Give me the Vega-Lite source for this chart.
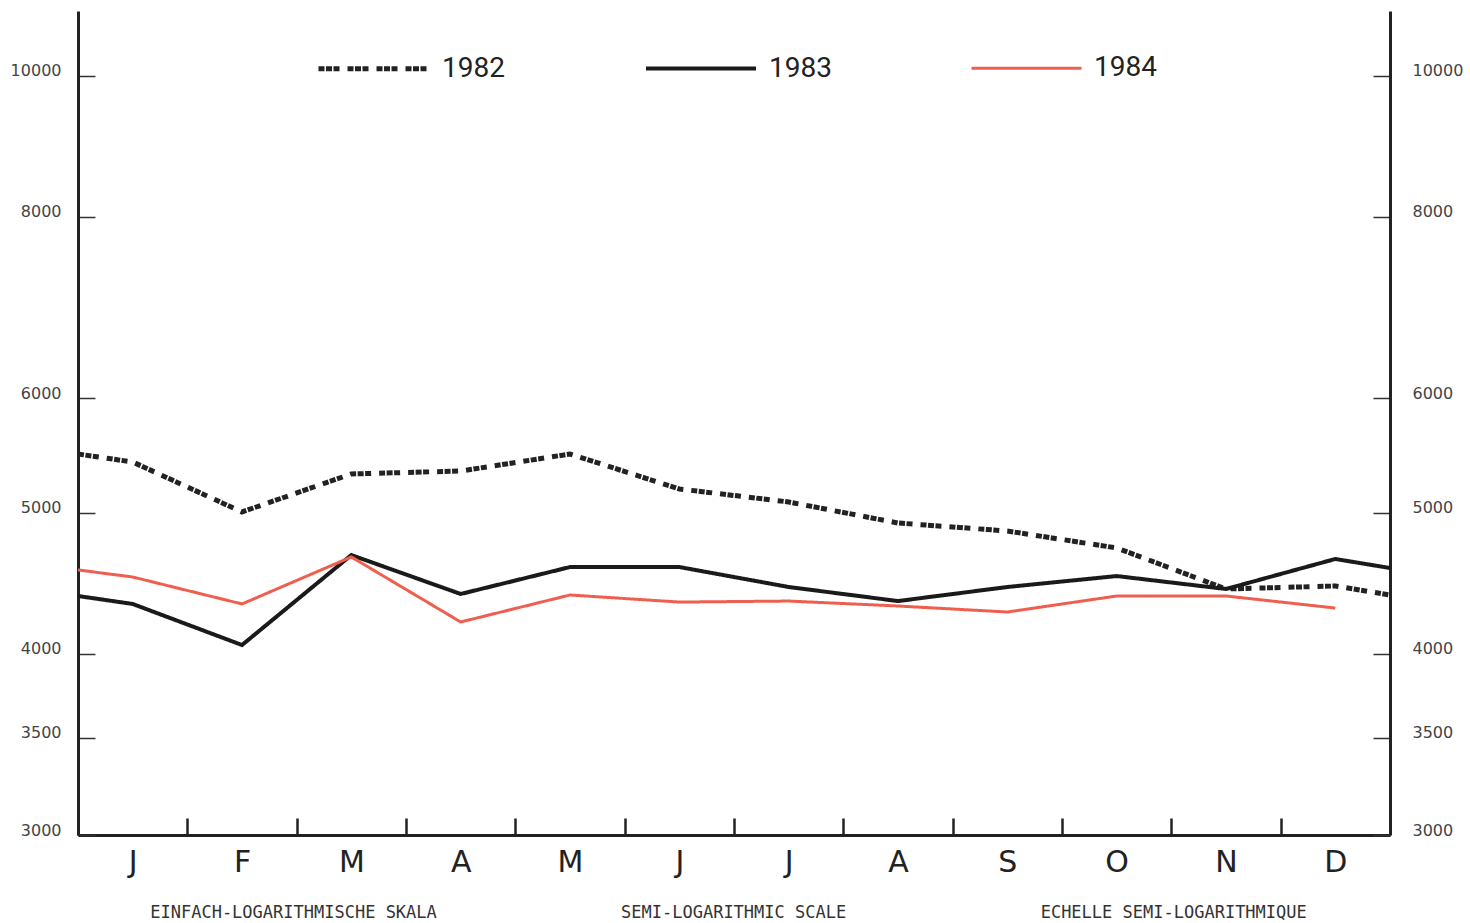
{
  "$schema": "https://vega.github.io/schema/vega-lite/v6.json",
  "width": 1312,
  "height": 824,
  "autosize": {"type": "none"},
  "padding": {"left": 78, "top": 11, "right": 80, "bottom": 88},
  "background": "white",
  "config": {"view": {"stroke": null}, "axis": {"grid": false}},
  "data": {"values": [
    {"year": "1982", "m": 0, "v": 5490},
    {"year": "1982", "m": 0.5, "v": 5421},
    {"year": "1982", "m": 1.5, "v": 5008},
    {"year": "1982", "m": 2.5, "v": 5319},
    {"year": "1982", "m": 3.5, "v": 5344},
    {"year": "1982", "m": 4.5, "v": 5490},
    {"year": "1982", "m": 5.5, "v": 5194},
    {"year": "1982", "m": 6.5, "v": 5088},
    {"year": "1982", "m": 7.5, "v": 4921},
    {"year": "1982", "m": 8.5, "v": 4859},
    {"year": "1982", "m": 9.5, "v": 4730},
    {"year": "1982", "m": 10.5, "v": 4432},
    {"year": "1982", "m": 11.5, "v": 4453},
    {"year": "1982", "m": 12, "v": 4390},
    {"year": "1983", "m": 0, "v": 4383},
    {"year": "1983", "m": 0.5, "v": 4328},
    {"year": "1983", "m": 1.5, "v": 4055},
    {"year": "1983", "m": 2.5, "v": 4677},
    {"year": "1983", "m": 3.5, "v": 4397},
    {"year": "1983", "m": 4.5, "v": 4589},
    {"year": "1983", "m": 5.5, "v": 4589},
    {"year": "1983", "m": 6.5, "v": 4446},
    {"year": "1983", "m": 7.5, "v": 4348},
    {"year": "1983", "m": 8.5, "v": 4446},
    {"year": "1983", "m": 9.5, "v": 4524},
    {"year": "1983", "m": 10.5, "v": 4432},
    {"year": "1983", "m": 11.5, "v": 4648},
    {"year": "1983", "m": 12, "v": 4582},
    {"year": "1984", "m": 0, "v": 4568},
    {"year": "1984", "m": 0.5, "v": 4517},
    {"year": "1984", "m": 1.5, "v": 4328},
    {"year": "1984", "m": 2.5, "v": 4663},
    {"year": "1984", "m": 3.5, "v": 4206},
    {"year": "1984", "m": 4.5, "v": 4390},
    {"year": "1984", "m": 5.5, "v": 4341},
    {"year": "1984", "m": 6.5, "v": 4348},
    {"year": "1984", "m": 7.5, "v": 4314},
    {"year": "1984", "m": 8.5, "v": 4273},
    {"year": "1984", "m": 9.5, "v": 4383},
    {"year": "1984", "m": 10.5, "v": 4383},
    {"year": "1984", "m": 11.5, "v": 4300}
  ]},
  "layer": [
    {
      "mark": {"type": "line", "strokeCap": "butt", "strokeJoin": "miter"},
      "encoding": {
        "x": {
          "field": "m", "type": "quantitative",
          "scale": {"domain": [0, 12], "nice": false, "zero": false},
          "axis": {
            "orient": "bottom",
            "values": [0, 1, 2, 3, 4, 5, 6, 7, 8, 9, 10, 11],
            "labelExpr": "['J','F','M','A','M','J','J','A','S','O','N','D'][datum.value]",
            "labelOffset": 54.67,
            "labelFlush": false,
            "labelOverlap": false,
            "labelFont": "DejaVu Sans",
            "labelFontSize": 30,
            "labelColor": "#222222",
            "labelPadding": 29,
            "tickSize": -17,
            "tickWidth": 2.5,
            "tickColor": "#222222",
            "domainColor": "#222222",
            "domainWidth": 3,
            "title": "EINFACH-LOGARITHMISCHE SKALA\u00a0\u00a0\u00a0\u00a0\u00a0\u00a0\u00a0\u00a0\u00a0\u00a0\u00a0\u00a0\u00a0\u00a0\u00a0\u00a0\u00a0\u00a0SEMI-LOGARITHMIC SCALE\u00a0\u00a0\u00a0\u00a0\u00a0\u00a0\u00a0\u00a0\u00a0\u00a0\u00a0\u00a0\u00a0\u00a0\u00a0\u00a0\u00a0\u00a0\u00a0ECHELLE SEMI-LOGARITHMIQUE",
            "titleFont": "DejaVu Sans Mono",
            "titleFontSize": 17,
            "titleFontWeight": "normal",
            "titleColor": "#333333",
            "titleX": 650,
            "titleY": 77,
            "titleAlign": "center",
            "titleAnchor": null,
            "titleBaseline": "middle"
          }
        },
        "y": {
          "field": "v", "type": "quantitative",
          "scale": {"type": "log", "domain": [3000, 11086], "nice": false},
          "axis": {
            "orient": "left",
            "values": [3000, 3500, 4000, 5000, 6000, 8000, 10000],
            "format": "d",
            "labelFont": "DejaVu Sans",
            "labelFontSize": 16,
            "labelColor": "#444444",
            "labelOffset": -5,
            "labelPadding": 34,
            "tickSize": -17,
            "tickWidth": 1.5,
            "tickColor": "#333333",
            "domainColor": "#222222",
            "domainWidth": 3,
            "title": null
          }
        },
        "color": {
          "field": "year", "type": "nominal",
          "scale": {"domain": ["1982", "1983", "1984"], "range": ["#222222", "#1a1a1a", "#ef5f50"]},
          "legend": {
            "orient": "none",
            "legendX": 238,
            "legendY": 0,
            "direction": "horizontal",
            "title": null,
            "symbolType": "stroke",
            "symbolSize": 12100,
            "labelFont": "Roboto",
            "labelFontSize": 28,
            "labelColor": "#222222",
            "labelOffset": 11,
            "columnPadding": 133
          }
        },
        "strokeDash": {
          "field": "year", "type": "nominal",
          "scale": {"domain": ["1982", "1983", "1984"], "range": [[6, 1.5, 6, 1.5, 6, 8], [1, 0], [1, 0]]}
        },
        "strokeWidth": {
          "field": "year", "type": "nominal",
          "scale": {"domain": ["1982", "1983", "1984"], "range": [5, 3, 2.5]}
        },
        "order": {"field": "m"}
      }
    },
    {
      "mark": {"type": "line", "opacity": 0},
      "encoding": {
        "x": {"field": "m", "type": "quantitative"},
        "y": {
          "field": "v", "type": "quantitative",
          "axis": {
            "orient": "right",
            "values": [3000, 3500, 4000, 5000, 6000, 8000, 10000],
            "format": "d",
            "labelFont": "DejaVu Sans",
            "labelFontSize": 16,
            "labelColor": "#444444",
            "labelOffset": -5,
            "labelPadding": 39,
            "tickSize": -17,
            "tickWidth": 1.5,
            "tickColor": "#333333",
            "domainColor": "#222222",
            "domainWidth": 3,
            "title": null
          }
        },
        "detail": {"field": "year"}
      }
    }
  ],
  "resolve": {"axis": {"y": "independent"}}
}
